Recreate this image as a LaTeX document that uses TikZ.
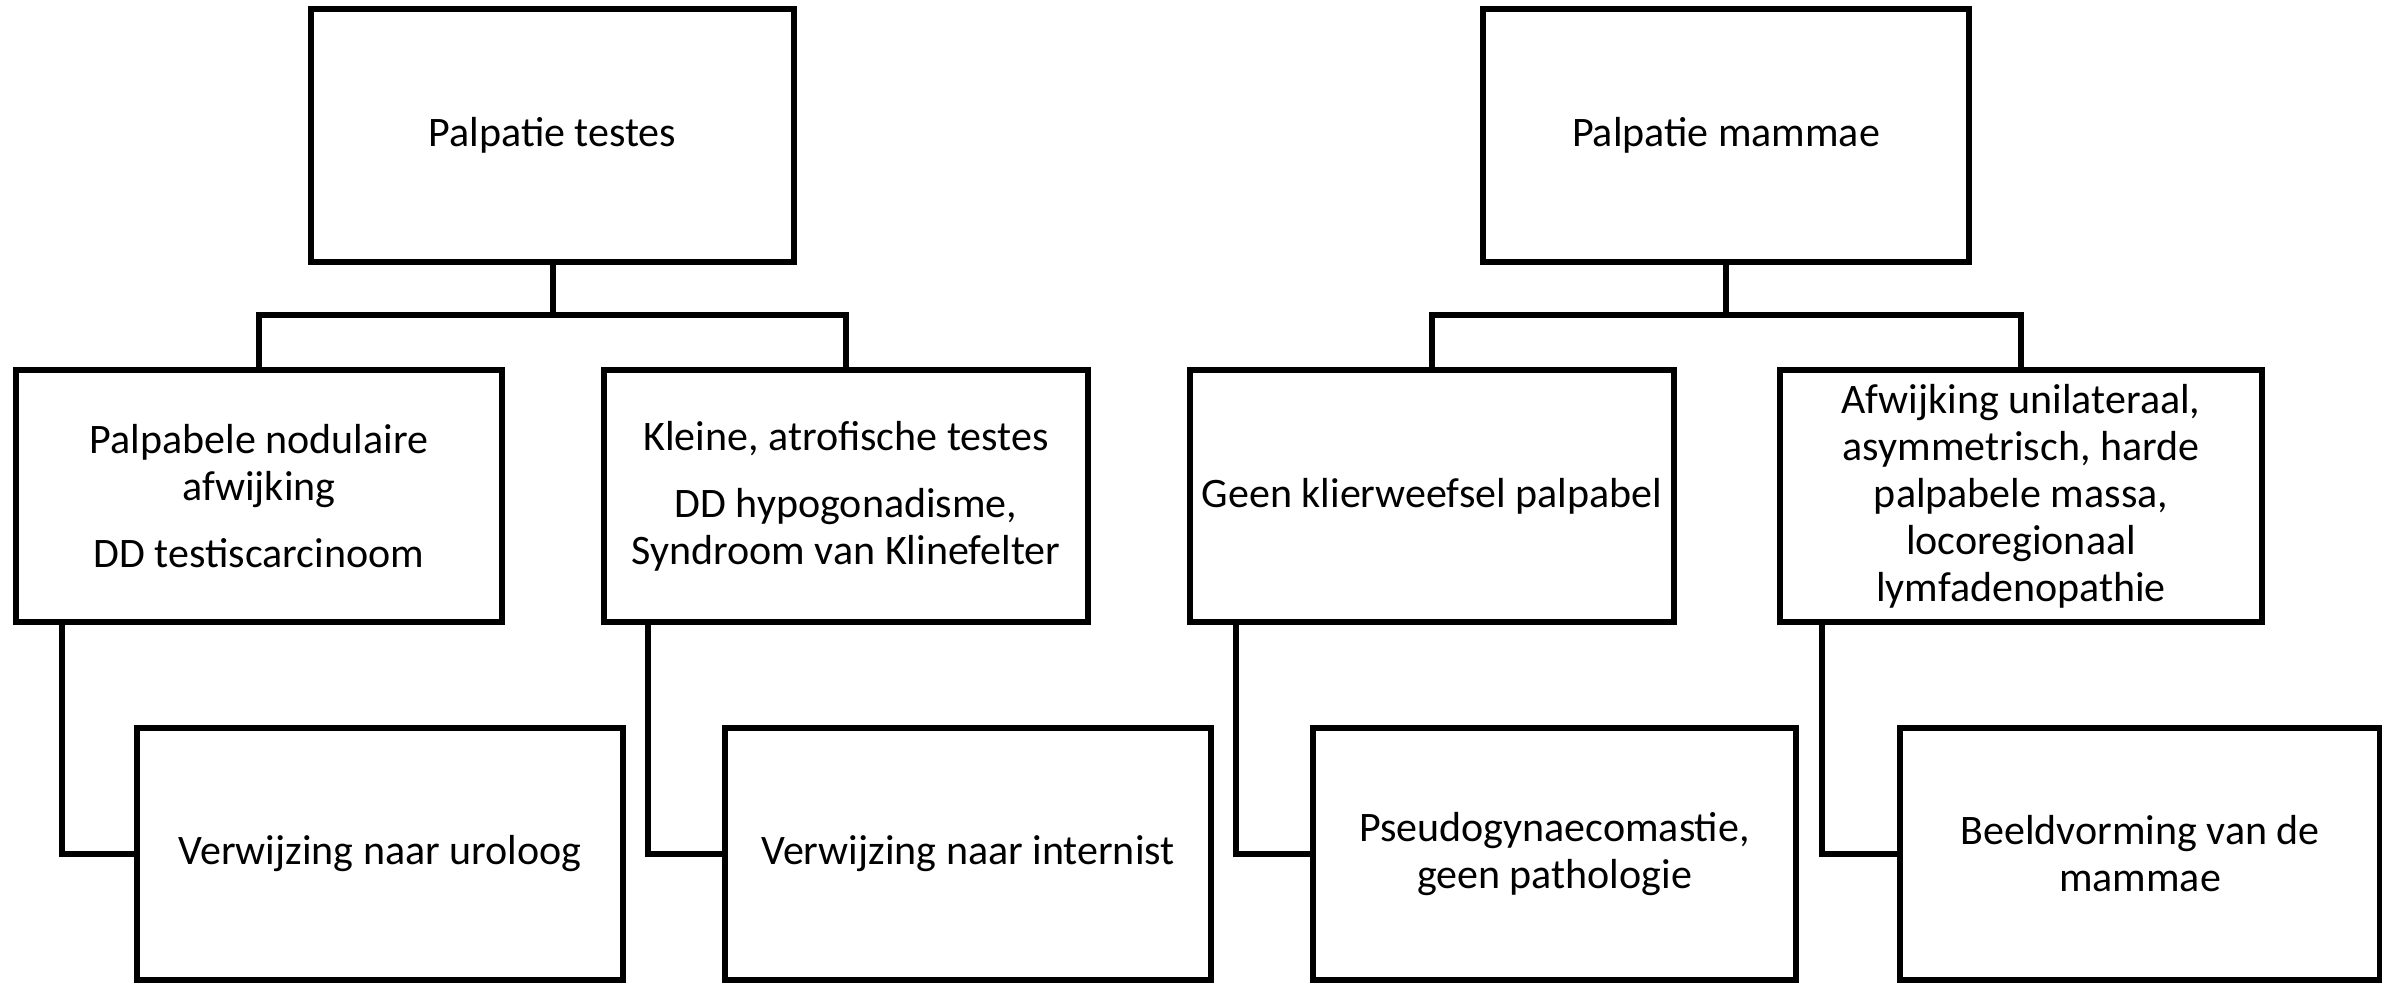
\documentclass[tikz,border=0pt]{standalone}
\usepackage{fontspec}
\setmainfont{Carlito}
\begin{document}
\begin{tikzpicture}[x=0.5pt,y=-0.5pt,
  box/.style={draw=black,line width=3pt,rectangle,align=center,inner sep=0pt,
    minimum height=126pt,font=\fontsize{21pt}{23.5pt}\selectfont},
  conn/.style={draw=black,line width=3pt,line join=miter}]
\useasboundingbox (0,0) rectangle (2382,984);
% top level
\node[box,minimum width=241.5pt,minimum height=126.5pt] (T1) at (552.5,135.5) {Palpatie testes};
\node[box,minimum width=243pt,minimum height=126.5pt] (T2) at (1726,135.5) {Palpatie mammae};
% second level
\node[box,minimum width=243pt] (L1) at (259,496) {Palpabele nodulaire\\afwijking\\[10pt]DD testiscarcinoom};
\node[box,minimum width=242pt] (L2) at (846,496) {Kleine, atrofische testes\\[10pt]DD hypogonadisme,\\Syndroom van Klinefelter};
\node[box,minimum width=242pt] (R1) at (1432,496) {Geen klierweefsel palpabel};
\node[box,minimum width=241pt] (R2) at (2021,496) {Afwijking unilateraal,\\asymmetrisch, harde\\palpabele massa,\\locoregionaal\\lymfadenopathie};
% third level
\node[box,minimum width=243pt] (B1) at (380,854) {Verwijzing naar uroloog};
\node[box,minimum width=243pt] (B2) at (968,854) {Verwijzing naar internist};
\node[box,minimum width=241.5pt] (B3) at (1554.5,854) {Pseudogynaecomastie,\\geen pathologie};
\node[box,minimum width=240pt] (B4) at (2140,854) {Beeldvorming van de\\mammae};
% junctions
\coordinate (J1) at (552.5,315);
\coordinate (J2) at (1726,315);
% connectors
\draw[conn] (T1.south) -- (J1);
\draw[conn] (L1.north) |- (J1) -| (L2.north);
\draw[conn] (T2.south) -- (J2);
\draw[conn] (R1.north) |- (J2) -| (R2.north);
\draw[conn] ([xshift=24.5pt]L1.south west) |- (B1.west);
\draw[conn] ([xshift=23.5pt]L2.south west) |- (B2.west);
\draw[conn] ([xshift=24.5pt]R1.south west) |- (B3.west);
\draw[conn] ([xshift=22.5pt]R2.south west) |- (B4.west);
\end{tikzpicture}
\end{document}
